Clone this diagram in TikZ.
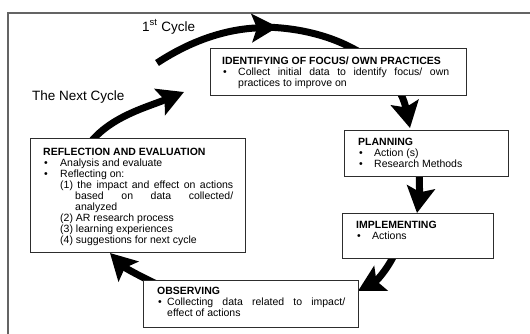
\documentclass[tikz,border=0pt]{standalone}
\usepackage{fontspec}
\setmainfont{Liberation Sans}
\usetikzlibrary{arrows.meta}
\setlength{\parindent}{0pt}
\tolerance=9999
\hbadness=10000
\newcommand{\bulitem}[1]{\makebox[#1][l]{\hspace{1pt}\textbullet}}
\definecolor{framec}{RGB}{100,100,100}
\definecolor{boxc}{RGB}{45,45,45}
\begin{document}
\begin{tikzpicture}[x=1pt,y=-1pt,
  box/.style={draw=boxc, line width=1pt, fill=white, anchor=north west, inner sep=0pt},
  txt/.style={anchor=north west, inner sep=0pt, align=justify, font=\fontsize{10.5}{11}\selectfont},
  lbl/.style={anchor=base west, inner sep=0pt, font=\fontsize{13.5}{15}\selectfont},
  cyc/.style={line width=7pt, -{Stealth[length=26pt,width=28pt,inset=5pt]}}
]
\useasboundingbox (0,0) rectangle (530,333);
\clip (0,0) rectangle (530,333);
% frame
\draw[framec, line width=2pt] (8,350) -- (8,13) -- (550,13);

% arrow coordinates
\coordinate (b0) at (262,27);
\coordinate (b1) at (410,128);
\coordinate (a0) at (157,63);
\coordinate (a1) at (278,27);
\coordinate (c0) at (419,165);
\coordinate (c1) at (417,213);
\coordinate (d0) at (398,245);
\coordinate (d1) at (358,291);
\coordinate (e0) at (175,292);
\coordinate (e1) at (110,253);
\coordinate (f0) at (85,150);
\coordinate (f1) at (184,92);

% cycle arrows (drawn first, boxes cover them)
\draw[cyc] (b0) .. controls (345,28) and (398,70) .. (b1);
\draw[cyc] (a0) .. controls (195,38) and (230,29) .. (a1);
\draw[cyc] (c0) .. controls (420,185) and (419,200) .. (c1);
\draw[cyc] (d0) .. controls (393,262) and (378,280) .. (d1);
\draw[cyc] (e0) .. controls (150,282) and (125,268) .. (e1);
\draw[cyc] (f0) .. controls (105,118) and (145,108) .. (f1);

% boxes
\node[box, minimum width=256pt, minimum height=47pt] (ident) at (210,48) {};
\node[box, minimum width=164pt, minimum height=46pt] (plan) at (344,130) {};
\node[box, minimum width=151pt, minimum height=45pt] (impl) at (342,213) {};
\node[box, minimum width=215pt, minimum height=114pt] (refl) at (30,138) {};
\node[box, minimum width=215pt, minimum height=47pt] (obs) at (143,280) {};

% texts
\node[txt, text width=227pt] (identt) at (222,56) {%
\rule{0pt}{8pt}\textbf{IDENTIFYING OF FOCUS/ OWN PRACTICES}\par
\hangindent=16pt\hangafter=1\bulitem{16pt}Collect initial data to identify focus/ own\linebreak practices to improve on\par};

\node[txt, text width=140pt] (plant) at (358,137) {%
\rule{0pt}{8pt}\textbf{PLANNING}\par
\bulitem{16pt}Action (s)\par
\bulitem{16pt}Research Methods\par};

\node[txt, text width=130pt] (implt) at (356,220) {%
\rule{0pt}{8pt}\textbf{IMPLEMENTING}\par
\bulitem{16pt}Actions\par};

\node[txt, text width=190pt] (reflt) at (43,147) {%
\rule{0pt}{8pt}\textbf{REFLECTION AND EVALUATION}\par
\bulitem{17pt}Analysis and evaluate\par
\bulitem{17pt}Reflecting on:\par
\hangindent=32pt\hangafter=1\hspace*{17pt}(1) the impact and effect on actions\linebreak based on data collected/\linebreak analyzed\par
\hspace*{17pt}(2) AR research process\par
\hspace*{17pt}(3) learning experiences\par
\hspace*{17pt}(4) suggestions for next cycle\par};

\node[txt, text width=188pt] (obst) at (157,286) {%
\rule{0pt}{8pt}\textbf{OBSERVING}\par
\hangindent=10pt\hangafter=1\bulitem{10pt}Collecting data related to impact/\linebreak effect of actions\par};

% labels
\node[lbl] (first) at (142,31) {1\textsuperscript{st} Cycle};
\node[lbl] (next) at (32,100) {The Next Cycle};
\end{tikzpicture}
\end{document}
